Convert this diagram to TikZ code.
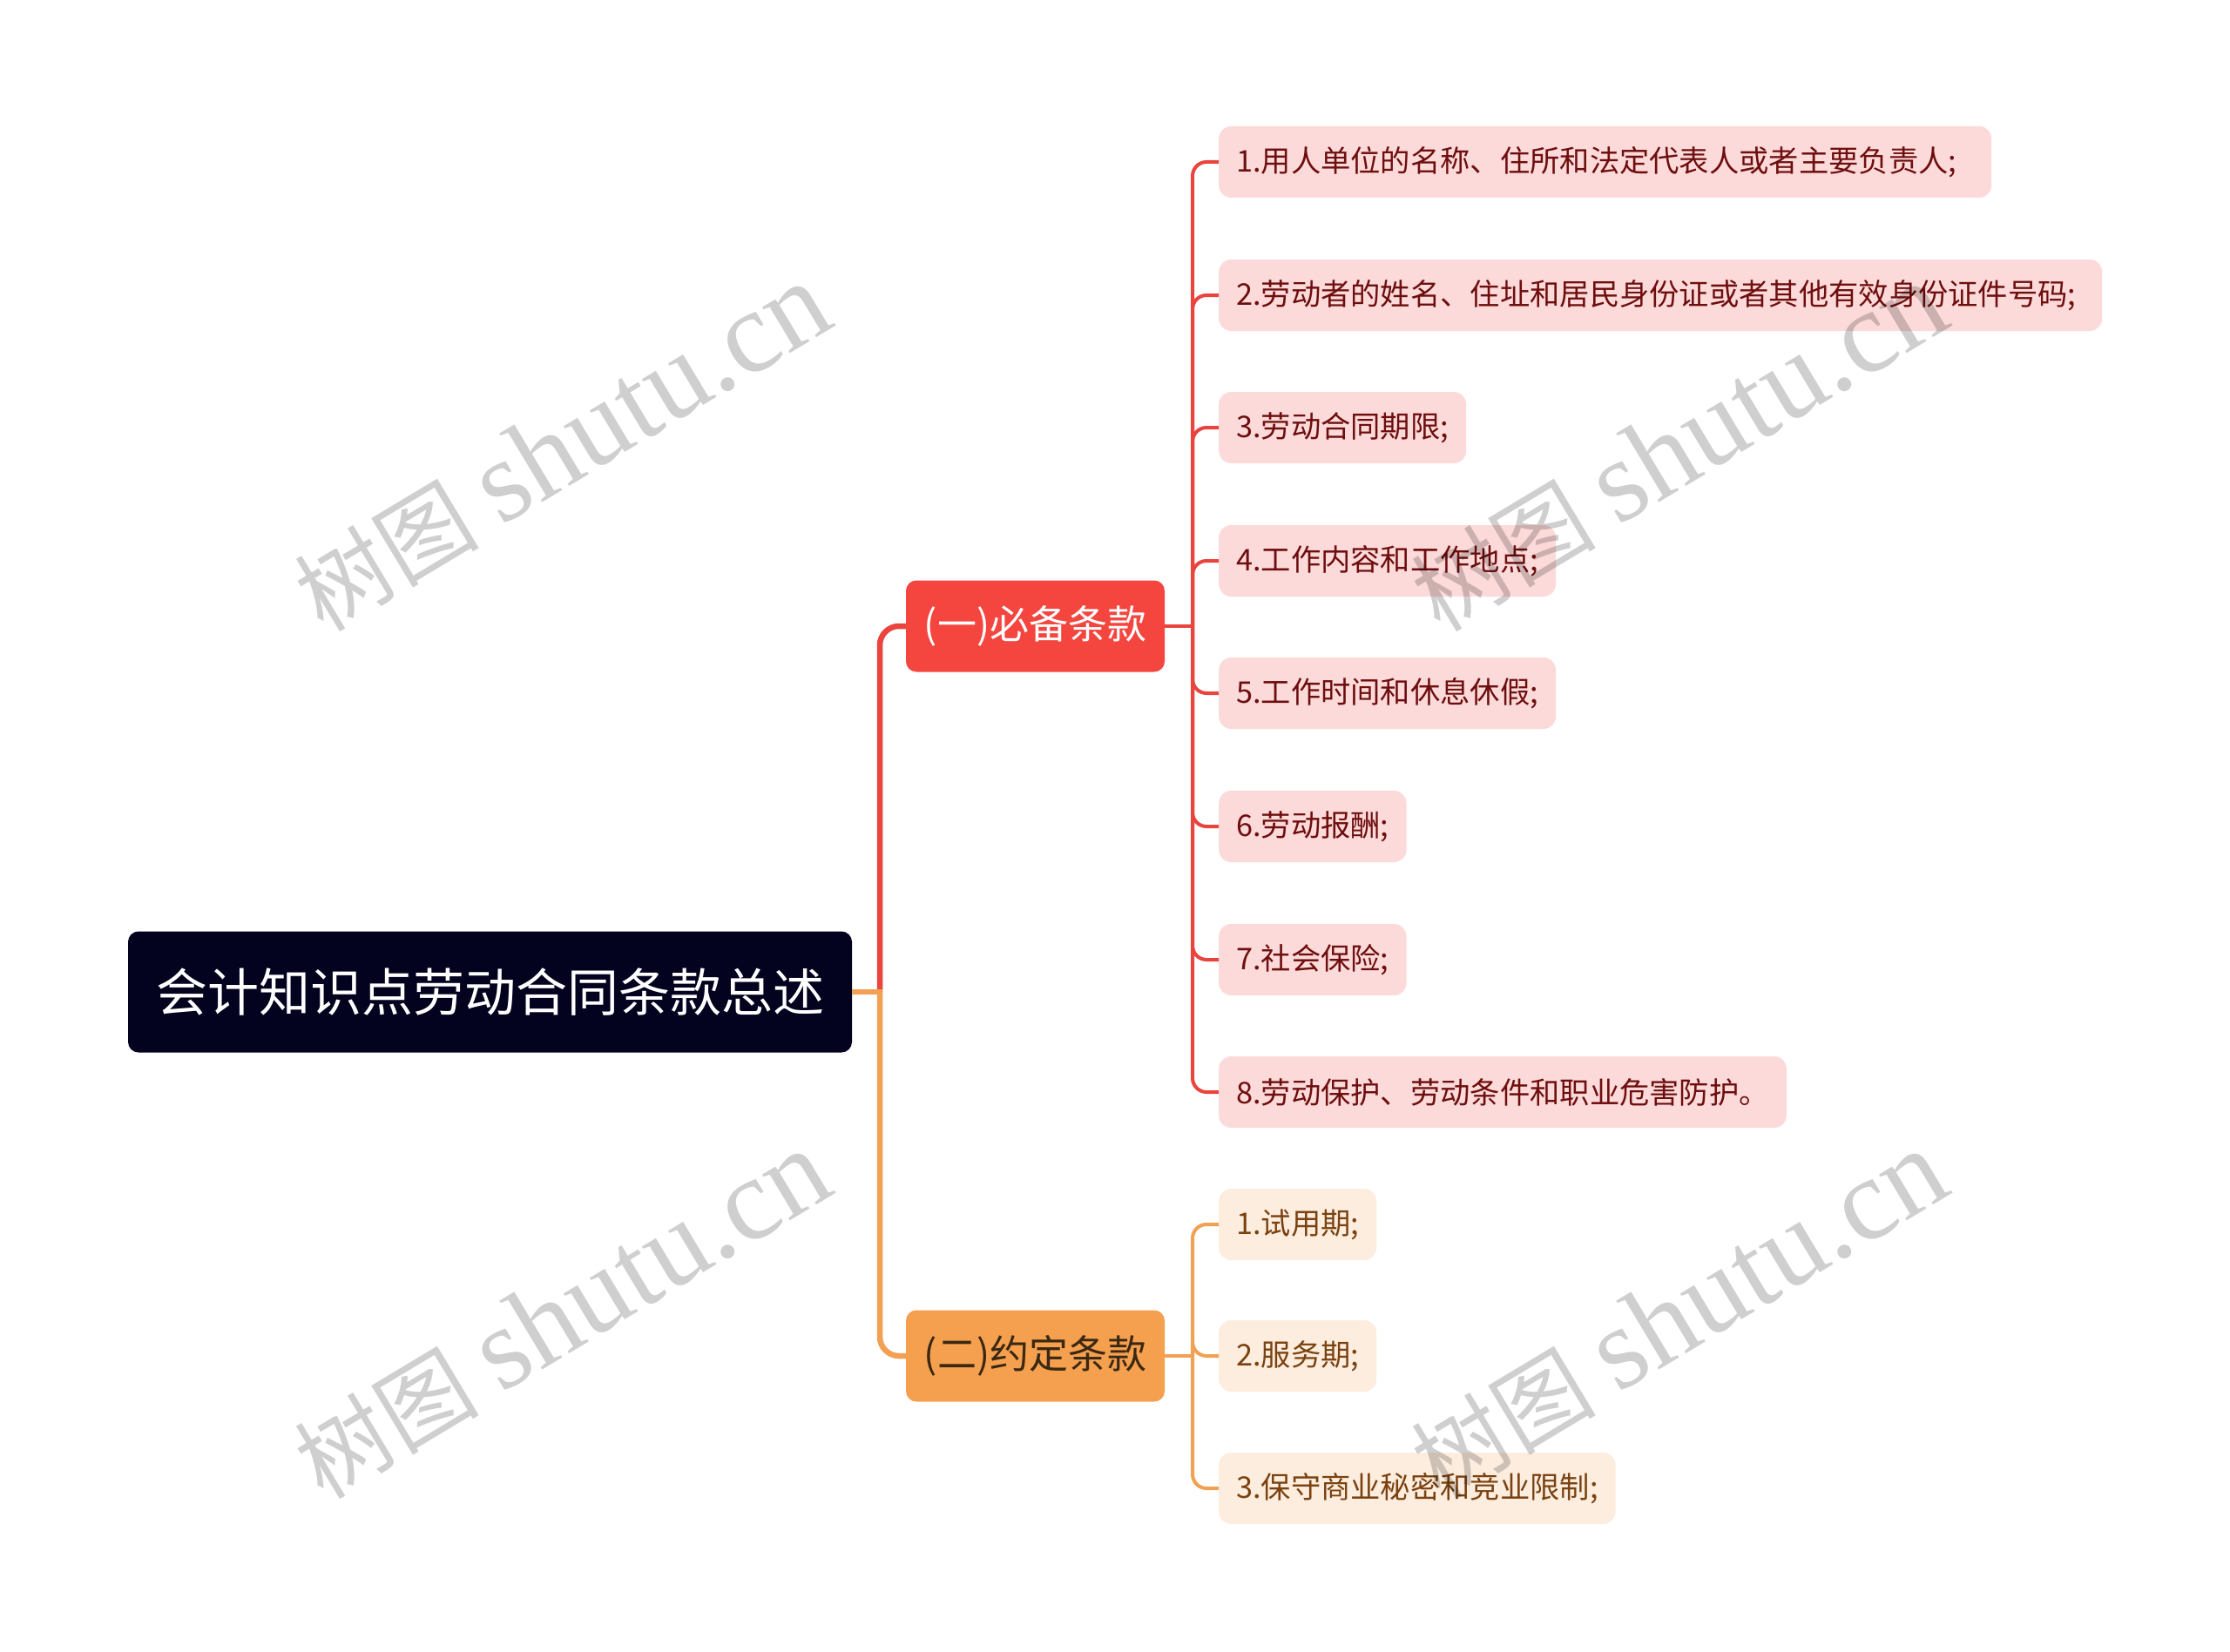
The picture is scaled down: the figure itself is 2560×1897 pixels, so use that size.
\documentclass[tikz,border=0pt]{standalone}
\usepackage{fontspec}
\newfontfamily\cjk{Noto Sans CJK SC}
\newfontfamily\wmlat{Liberation Serif}
\definecolor{rootbg}{HTML}{03031F}
\definecolor{redmain}{HTML}{F4453F}
\definecolor{redline}{HTML}{E9443E}
\definecolor{orangemain}{HTML}{F5A04F}
\definecolor{orangeline}{HTML}{F2A053}
\definecolor{leafred}{HTML}{FCDADA}
\definecolor{leafredtext}{HTML}{6E0E0E}
\definecolor{leaforange}{HTML}{FDEDDF}
\definecolor{leaforangetext}{HTML}{7A4210}
\definecolor{branchdark}{HTML}{3A2812}
\begin{document}
\begin{tikzpicture}[x=1pt,y=-1pt,
  rootbox/.style={fill=rootbg, rounded corners=12pt, text=white, minimum width=831pt,
    minimum height=139pt, inner sep=0pt, font=\cjk\fontsize{59}{70}\selectfont},
  branchbox/.style={rounded corners=12pt, minimum width=297pt, minimum height=105pt,
    inner sep=0pt, font=\cjk\fontsize{45}{52}\selectfont},
  leafbox/.style={rounded corners=14pt, minimum height=82pt, inner xsep=20pt, inner ysep=0pt,
    anchor=west, font=\cjk\fontsize{34.3}{40}\selectfont},
  leafr/.style={leafbox, fill=leafred, text=leafredtext},
  leafo/.style={leafbox, fill=leaforange, text=leaforangetext},
  mainred/.style={draw=redline, line width=6.5pt},
  mainorange/.style={draw=orangeline, line width=6.5pt},
  subred/.style={draw=redline, line width=4pt, rounded corners=16pt},
  suborange/.style={draw=orangeline, line width=4pt, rounded corners=16pt},
  wm/.style={text=black, opacity=0.19, inner sep=0pt}
]
\useasboundingbox (0,0) rectangle (2560,1897);

% nodes
\node[rootbox] (root) at (562.5,1139) {会计知识点劳动合同条款总述};
\node[branchbox, fill=redmain, text=white] (b1) at (1188.5,719) {(一)必备条款};
\node[branchbox, fill=orangemain, text=branchdark] (b2) at (1188.5,1557) {(二)约定条款};

\node[leafr, text width=847pt, align=left] (r1) at (1399,186) {1.用人单位的名称、住所和法定代表人或者主要负责人;};
\node[leafr, text width=974pt, align=left] (r2) at (1399,339) {2.劳动者的姓名、住址和居民身份证或者其他有效身份证件号码;};
\node[leafr] (r3) at (1399,491) {3.劳动合同期限;};
\node[leafr] (r4) at (1399,644) {4.工作内容和工作地点;};
\node[leafr] (r5) at (1399,796) {5.工作时间和休息休假;};
\node[leafr] (r6) at (1399,949) {6.劳动报酬;};
\node[leafr] (r7) at (1399,1102) {7.社会保险;};
\node[leafr] (r8) at (1399,1254) {8.劳动保护、劳动条件和职业危害防护。};

\node[leafo] (o1) at (1399,1406) {1.试用期;};
\node[leafo] (o2) at (1399,1557) {2.服务期;};
\node[leafo] (o3) at (1399,1709) {3.保守商业秘密和竞业限制;};

% junctions
\coordinate (rj) at (1010,1139);
\coordinate (j1) at (1369,719);
\coordinate (j2) at (1369,1557);

% connectors
\draw[mainred, rounded corners=22pt] (rj) |- (b1.west);
\draw[mainorange, rounded corners=22pt] (rj) |- (b2.west);
\draw[mainorange] (root.east) -- ([xshift=3.25pt]rj);

\draw[redline, line width=4pt] (b1.east) -- (j1);
\foreach \n in {r1,r2,r3,r4,r5,r6,r7,r8}{
  \draw[subred] (j1) |- (\n.west);
}
\draw[orangeline, line width=4pt] (b2.east) -- (j2);
\foreach \n in {o1,o2,o3}{
  \draw[suborange] (j2) |- (\n.west);
}

% watermarks
\foreach \p/\q in {645/514, 1927/514, 645/1510, 1927/1510}{
  \node[wm, rotate=31] at (\p,\q) {{\cjk\fontsize{106}{120}\selectfont 树图}\hspace{26pt}{\wmlat\fontsize{134}{150}\selectfont shutu.cn}};
}
\end{tikzpicture}
\end{document}
